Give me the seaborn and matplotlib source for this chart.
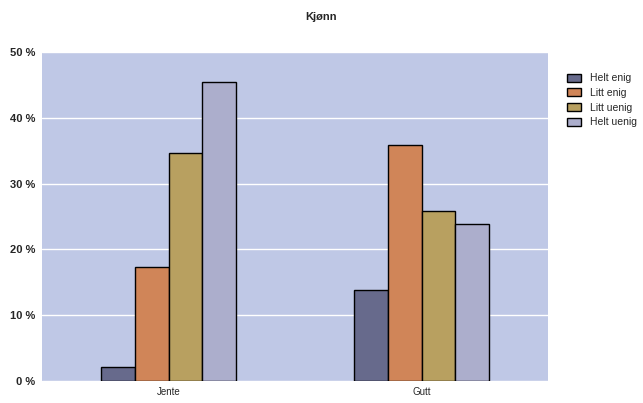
import matplotlib
matplotlib.use("Agg")
import matplotlib.pyplot as plt
import seaborn as sns
import pandas as pd

categories = ["Jente", "Gutt"]
series = ["Helt enig", "Litt enig", "Litt uenig", "Helt uenig"]
helt_enig = [2.1, 13.8]
litt_enig = [17.3, 35.8]
litt_uenig = [34.7, 25.9]
helt_uenig = [45.5, 23.8]
yticks = [0, 10, 20, 30, 40, 50]
colors = ["#676a8c", "#d08558", "#b8a060", "#acaecc"]

rows = []
for s, vals in zip(series, [helt_enig, litt_enig, litt_uenig, helt_uenig]):
    for c, v in zip(categories, vals):
        rows.append({"Kjønn": c, "Svar": s, "Prosent": v})
df = pd.DataFrame(rows)

sns.set_style("white")
plt.rcParams["font.family"] = ["Liberation Sans", "DejaVu Sans"]

fig = plt.figure(figsize=(6.43, 4.03), dpi=100)
ax = fig.add_axes([42/643, 22/403, (548-42)/643, (381-52)/403])
ax.set_facecolor("#bfc8e6")

sns.barplot(data=df, x="Kjønn", y="Prosent", hue="Svar", order=categories,
            hue_order=series, palette=colors, width=0.53, edgecolor="black",
            linewidth=1.0, ax=ax, zorder=3, saturation=1)

ax.set_ylim(0, 50)
ax.set_xlim(-0.5, 1.5)
ax.set_yticks(yticks)
ax.set_yticklabels([f"{t} %" for t in yticks], fontsize=8, fontweight="bold")
ax.tick_params(axis="x", labelsize=7, length=0, pad=4)
ax.tick_params(axis="y", length=0, pad=5)
ax.yaxis.grid(True, color="white", linewidth=1, zorder=0)
ax.set_axisbelow(True)
for sp in ax.spines.values():
    sp.set_visible(False)
ax.set_xlabel("")
ax.set_ylabel("")

fig.text(0.5, 1 - 17/403, "Kjønn", ha="center", va="center", fontsize=8, fontweight="bold")

leg = ax.legend(loc="upper left", bbox_to_anchor=(558/643, 1 - 64/403),
                bbox_transform=fig.transFigure, frameon=False, fontsize=7.5,
                handlelength=1.3, handleheight=0.8, labelspacing=0.45, handletextpad=0.9)

fig.savefig("out.png", dpi=100)
